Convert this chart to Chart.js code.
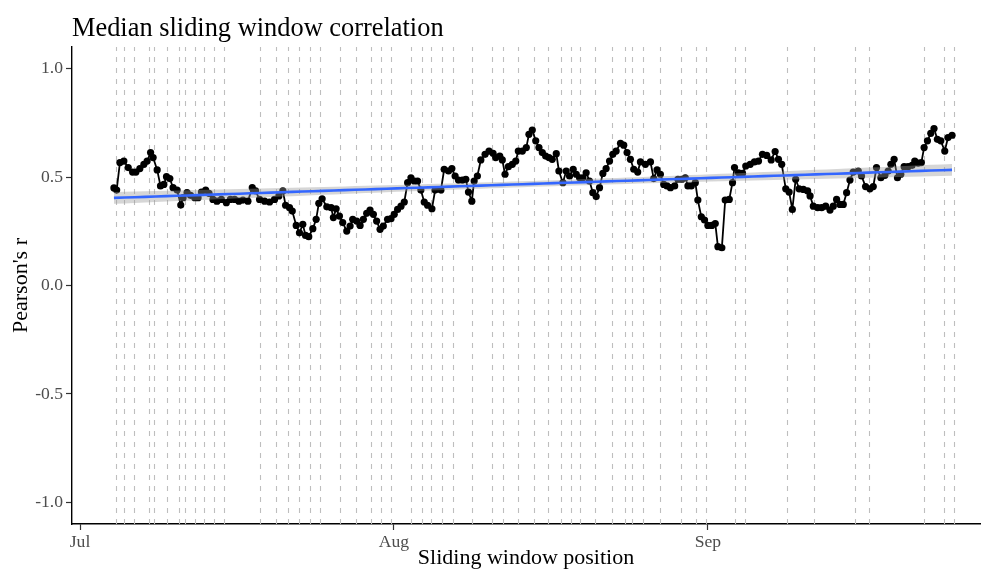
<!DOCTYPE html>
<html><head><meta charset="utf-8">
<script src="https://cdn.jsdelivr.net/npm/chart.js@4/dist/chart.umd.min.js"></script>
<style>html,body{margin:0;padding:0;overflow:hidden;background:#fff}</style>
</head><body>
<canvas id="c" width="984" height="590" style="display:block;width:984px;height:590px"></canvas>
<script>
// Sliding window position in days since 1 July
const days = [3.35,3.62,3.94,4.33,4.76,5.19,5.52,5.91,6.31,6.63,6.97,7.22,7.62,7.95,8.28,8.54,8.87,9.19,9.59,9.95,
10.18,10.57,10.91,11.33,11.66,11.99,12.41,12.74,13.13,13.53,13.96,14.45,14.85,15.27,15.69,16.09,16.58,17.01,17.34,17.73,
18.23,18.72,19.21,19.64,20.03,20.30,20.69,20.96,21.35,21.67,22.00,22.27,22.59,22.99,23.32,23.58,23.91,24.37,24.80,25.02,
25.29,25.62,25.94,26.34,26.67,26.93,27.32,27.66,27.98,28.31,28.64,28.97,29.29,29.63,29.95,30.37,30.71,31.03,31.36,31.70,
32.02,32.35,32.68,33.00,33.33,33.66,33.99,34.32,34.75,35.07,35.64,35.96,36.39,36.72,37.04,37.37,37.76,38.10,38.36,38.69,
38.92,39.24,39.58,40.00,40.39,40.79,41.05,41.45,41.70,41.97,42.30,42.69,43.03,43.28,43.68,44.07,44.33,44.66,45.00,45.32,
45.65,45.98,46.31,46.63,47.03,47.29,47.68,48.01,48.34,48.70,49.00,49.33,49.66,49.98,50.31,50.64,50.97,51.30,51.63,51.95,
52.29,52.61,52.94,53.37,53.69,54.02,54.35,54.68,55.07,55.34,55.83,56.33,56.65,56.98,57.31,57.64,57.96,58.30,58.72,59.04,
59.44,59.77,60.03,60.36,60.76,61.01,61.35,61.67,62.00,62.39,62.73,62.99,63.38,63.71,64.11,64.43,64.63,65.02,65.42,65.74,
66.18,66.60,67.00,67.39,67.81,68.25,68.64,68.97,69.29,69.69,70.02,70.34,70.67,71.01,71.43,71.85,72.09,72.41,72.84,73.23,
73.63,74.06,74.38,74.71,75.04,75.37,75.70,76.03,76.35,76.85,77.17,77.57,78.00,78.33,78.65,79.08,79.48,79.80,80.07,80.39,
80.72,81.05,81.38,81.77,82.17,82.43,82.76,83.08,83.35,83.68,84.01,84.33,84.66,85.00,85.39,85.71,86.11];
// Median Pearson's r for each window
const corr = [0.450,0.440,0.567,0.574,0.544,0.523,0.523,0.539,0.559,0.574,0.613,0.590,0.533,0.459,0.466,0.502,0.493,0.451,0.440,0.371,
0.405,0.428,0.416,0.405,0.405,0.431,0.440,0.425,0.397,0.389,0.397,0.382,0.397,0.397,0.389,0.394,0.389,0.451,0.436,0.397,
0.389,0.385,0.397,0.413,0.436,0.370,0.359,0.343,0.277,0.243,0.282,0.231,0.225,0.262,0.305,0.379,0.400,0.363,0.359,0.313,
0.354,0.320,0.290,0.251,0.274,0.305,0.297,0.277,0.305,0.333,0.348,0.328,0.297,0.259,0.274,0.305,0.308,0.328,0.351,0.366,
0.385,0.474,0.497,0.482,0.482,0.440,0.385,0.370,0.354,0.440,0.440,0.536,0.528,0.539,0.505,0.486,0.486,0.490,0.431,0.389,
0.482,0.505,0.579,0.605,0.620,0.610,0.590,0.597,0.579,0.513,0.548,0.559,0.574,0.620,0.620,0.636,0.697,0.717,0.667,0.636,
0.613,0.597,0.590,0.582,0.608,0.528,0.474,0.528,0.505,0.536,0.513,0.497,0.497,0.520,0.482,0.428,0.410,0.451,0.517,0.539,
0.574,0.605,0.620,0.656,0.647,0.613,0.582,0.536,0.523,0.570,0.559,0.570,0.493,0.533,0.513,0.466,0.459,0.451,0.459,0.490,
0.490,0.497,0.459,0.459,0.474,0.394,0.317,0.302,0.277,0.277,0.286,0.179,0.174,0.394,0.397,0.474,0.544,0.520,0.517,0.551,
0.559,0.570,0.574,0.605,0.600,0.579,0.618,0.582,0.559,0.446,0.431,0.351,0.490,0.446,0.443,0.436,0.413,0.366,0.359,0.359,
0.366,0.348,0.366,0.397,0.374,0.374,0.428,0.486,0.523,0.528,0.505,0.456,0.446,0.456,0.544,0.497,0.508,0.528,0.559,0.582,
0.497,0.513,0.548,0.548,0.554,0.574,0.564,0.567,0.636,0.667,0.702,0.724,0.674,0.667,0.620,0.682,0.693];
// Dashed vertical markers (days since 1 July)
const eventDays = [3.52,4.33,5.29,6.80,7.29,8.60,9.82,10.34,11.36,12.25,13.27,14.22,17.80,19.31,20.52,21.65,22.73,23.68,
25.69,27.22,28.77,29.72,30.67,32.68,33.73,34.68,35.70,36.82,38.75,40.72,41.74,43.22,44.83,46.21,47.46,48.50,49.36,50.81,
52.58,53.86,54.55,55.64,57.31,59.38,60.79,61.77,64.70,65.69,69.82,72.48,76.48,77.90,83.32,85.32,86.28];
const xTickValues = [0, 31, 62];
const xTickLabels = ['Jul', 'Aug', 'Sep'];
const yTickValues = [-1, -0.5, 0, 0.5, 1];
const yTickLabels = ['-1.0', '-0.5', '0.0', '0.5', '1.0'];

// Linear fit with 95% confidence band (computed from the data)
const n = days.length;
const mx = days.reduce((a, b) => a + b, 0) / n;
const my = corr.reduce((a, b) => a + b, 0) / n;
let sxx = 0, sxy = 0;
for (let i = 0; i < n; i++) { sxx += (days[i] - mx) ** 2; sxy += (days[i] - mx) * (corr[i] - my); }
const slope = sxy / sxx, icpt = my - slope * mx;
let rss = 0;
for (let i = 0; i < n; i++) rss += (corr[i] - icpt - slope * days[i]) ** 2;
const sres = Math.sqrt(rss / (n - 2));
const tq = 1.97;
const xmin = Math.min(...days), xmax = Math.max(...days);
const fit = [], upper = [], lower = [];
for (let k = 0; k <= 80; k++) {
  const xv = xmin + (xmax - xmin) * k / 80;
  const yv = icpt + slope * xv;
  const se = sres * Math.sqrt(1 / n + (xv - mx) ** 2 / sxx);
  fit.push({x: xv, y: yv});
  upper.push({x: xv, y: yv + tq * se});
  lower.push({x: xv, y: yv - tq * se});
}
const points = days.map((d, i) => ({x: d, y: corr[i]}));

const FONT = "'Liberation Serif', 'DejaVu Serif', serif";

const vlinePlugin = {
  id: 'vlines',
  beforeDatasetsDraw(chart) {
    const {ctx, chartArea, scales: {x}} = chart;
    ctx.save();
    ctx.strokeStyle = '#BEBEBE';
    ctx.lineWidth = 1.1;
    ctx.setLineDash([5, 6]);
    eventDays.forEach(d => {
      const px = Math.round(x.getPixelForValue(d)) + 0.5;
      ctx.beginPath();
      ctx.moveTo(px, chartArea.bottom);
      ctx.lineTo(px, chartArea.top);
      ctx.stroke();
    });
    ctx.restore();
  }
};

new Chart(document.getElementById('c'), {
  type: 'line',
  data: {
    datasets: [
      {label: 'fit', data: fit, borderColor: '#3366FF', borderWidth: 2.6, pointRadius: 0, fill: false, order: 0},
      {label: 'upper', data: upper, borderWidth: 0, borderColor: 'rgba(0,0,0,0)', pointRadius: 0, fill: false, order: 1},
      {label: 'lower', data: lower, borderWidth: 0, borderColor: 'rgba(0,0,0,0)', pointRadius: 0,
       fill: '-1', backgroundColor: 'rgba(153,153,153,0.4)', order: 2},
      {label: 'r', data: points, borderColor: '#000', borderWidth: 1.8, pointRadius: 3.6,
       pointBackgroundColor: '#000', pointBorderWidth: 0, fill: false, order: 3}
    ]
  },
  options: {
    responsive: false,
    animation: false,
    devicePixelRatio: 1,
    layout: {padding: {left: 0, right: 2, top: 0, bottom: 0}},
    plugins: {
      legend: {display: false},
      tooltip: {enabled: false},
      title: {
        display: true, text: 'Median sliding window correlation', align: 'start', fullSize: false,
        color: '#000', font: {family: FONT, size: 26.4, weight: 'normal'},
        padding: {top: 13, bottom: 2.3}
      }
    },
    scales: {
      x: {
        type: 'linear', min: -0.79, max: 88.87,
        afterFit: s => { s.height = 66; },
        afterBuildTicks: s => { s.ticks = xTickValues.map(v => ({value: v})); },
        ticks: {
          callback: v => xTickLabels[xTickValues.indexOf(v)],
          color: '#4D4D4D', font: {family: FONT, size: 17.6}, padding: 2, maxRotation: 0, autoSkip: false
        },
        grid: {display: true, drawOnChartArea: false, drawTicks: true, tickLength: 6, tickColor: '#333', tickWidth: 1.2},
        border: {display: true, color: '#000', width: 1.4},
        title: {display: true, text: 'Sliding window position', color: '#000',
                font: {family: FONT, size: 22}, padding: {top: 0, bottom: 18.8}}
      },
      y: {
        type: 'linear', min: -1.1, max: 1.1,
        afterFit: s => { s.width = 72; },
        afterBuildTicks: s => { s.ticks = yTickValues.map(v => ({value: v})); },
        ticks: {
          callback: v => yTickLabels[yTickValues.indexOf(v)],
          color: '#4D4D4D', font: {family: FONT, size: 17.6}, padding: 3
        },
        grid: {display: true, drawOnChartArea: false, drawTicks: true, tickLength: 6, tickColor: '#333', tickWidth: 1.2},
        border: {display: true, color: '#000', width: 1.4},
        title: {display: true, text: "Pearson's r", color: '#000',
                font: {family: FONT, size: 22}, padding: {top: 8, bottom: 0}}
      }
    }
  },
  plugins: [vlinePlugin]
});
</script>
</body></html>
